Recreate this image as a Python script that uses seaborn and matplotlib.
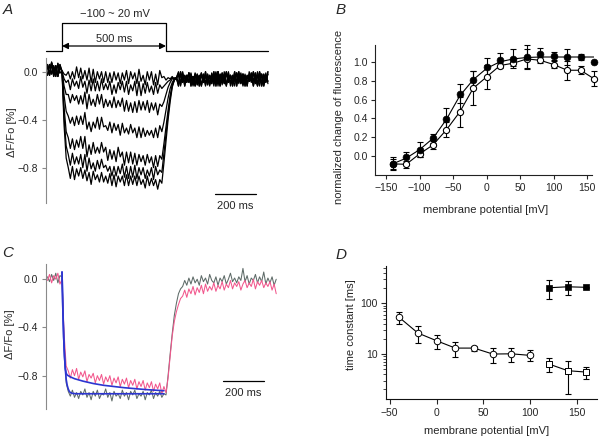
import numpy as np
import pandas as pd
import matplotlib
matplotlib.use("Agg")
import matplotlib.pyplot as plt
import matplotlib.transforms as mtransforms
import seaborn as sns

# ======================= DATA =======================
# ---- Panel A: ΔF/Fo traces, one sample every 10 ms starting at -70 ms ----
a_sample_ms = 10
a_start_ms = -70
a_stim_on_ms = 0
a_stim_off_ms = 500
a_stim_text = "−100 ~ 20 mV"
a_pulse_text = "500 ms"
a_scale_ms = 200

# before the pulse (-70 .. -10 ms)
a_pre_1 = [0.06, -0.03, 0.07, -0.02, 0.05, -0.04, 0.04]
a_pre_2 = [-0.03, 0.06, -0.02, 0.05, -0.04, 0.07, -0.01]
a_pre_3 = [0.04, -0.02, 0.08, -0.04, 0.03, -0.03, 0.06]

# during the pulse and recovery (0 .. 550 ms)
a_step_1 = [0.01, -0.02, -0.03,
            0.00, -0.06, 0.00, -0.06, 0.04, -0.05, 0.03, -0.06, 0.01,
            -0.07, 0.03, -0.09, 0.02, -0.09, 0.00, -0.06, 0.00, -0.09,
            0.00, -0.09, -0.01, -0.09, 0.00, -0.07, -0.01, -0.10, -0.01,
            -0.07, 0.01, -0.10, 0.00, -0.06, -0.01, -0.10, 0.02, -0.08,
            -0.03, -0.11, 0.00, -0.07, 0.00, -0.11, -0.02, -0.11, 0.01,
            -0.05, -0.04, -0.07, -0.05, -0.06, -0.04, -0.07, -0.05]
a_step_2 = [0.00, -0.06, -0.09,
            -0.07, -0.15, -0.06, -0.12, -0.08, -0.14, -0.04, -0.13, -0.08,
            -0.18, -0.07, -0.16, -0.06, -0.16, -0.08, -0.16, -0.06, -0.15,
            -0.10, -0.15, -0.08, -0.19, -0.11, -0.18, -0.09, -0.15, -0.08,
            -0.17, -0.08, -0.19, -0.11, -0.16, -0.08, -0.20, -0.08, -0.20,
            -0.10, -0.18, -0.09, -0.17, -0.12, -0.19, -0.09, -0.18, -0.11,
            -0.14, -0.12, -0.10, -0.08, -0.07, -0.05, -0.06, -0.05]
a_step_3 = [0.00, -0.12, -0.19,
            -0.19, -0.26, -0.19, -0.24, -0.20, -0.27, -0.20, -0.27, -0.17,
            -0.31, -0.19, -0.28, -0.23, -0.29, -0.19, -0.27, -0.19, -0.30,
            -0.23, -0.29, -0.24, -0.30, -0.21, -0.30, -0.24, -0.29, -0.22,
            -0.33, -0.24, -0.33, -0.26, -0.34, -0.25, -0.34, -0.24, -0.32,
            -0.25, -0.32, -0.24, -0.34, -0.26, -0.32, -0.26, -0.36, -0.27,
            -0.29, -0.25, -0.19, -0.13, -0.09, -0.06, -0.05, -0.06]
a_step_4 = [0.00, -0.20, -0.33,
            -0.37, -0.43, -0.38, -0.45, -0.37, -0.44, -0.37, -0.44, -0.34,
            -0.48, -0.42, -0.50, -0.42, -0.47, -0.38, -0.48, -0.38, -0.46,
            -0.45, -0.49, -0.42, -0.51, -0.43, -0.49, -0.44, -0.53, -0.43,
            -0.51, -0.47, -0.52, -0.44, -0.51, -0.47, -0.55, -0.46, -0.55,
            -0.47, -0.54, -0.49, -0.53, -0.49, -0.55, -0.47, -0.55, -0.45,
            -0.50, -0.42, -0.32, -0.22, -0.14, -0.09, -0.06, -0.05]
a_step_5 = [0.00, -0.30, -0.50,
            -0.55, -0.64, -0.56, -0.65, -0.57, -0.63, -0.54, -0.64, -0.54,
            -0.71, -0.61, -0.69, -0.59, -0.68, -0.63, -0.68, -0.59, -0.67,
            -0.63, -0.74, -0.65, -0.73, -0.66, -0.75, -0.63, -0.71, -0.67,
            -0.78, -0.67, -0.76, -0.67, -0.77, -0.68, -0.78, -0.69, -0.75,
            -0.70, -0.78, -0.69, -0.76, -0.71, -0.80, -0.70, -0.79, -0.70,
            -0.73, -0.60, -0.46, -0.32, -0.20, -0.11, -0.07, -0.05]
a_step_6 = [0.00, -0.38, -0.62,
            -0.69, -0.78, -0.68, -0.77, -0.71, -0.77, -0.69, -0.80, -0.69,
            -0.83, -0.72, -0.81, -0.76, -0.83, -0.74, -0.81, -0.73, -0.80,
            -0.78, -0.83, -0.79, -0.87, -0.79, -0.87, -0.79, -0.85, -0.77,
            -0.88, -0.79, -0.89, -0.79, -0.88, -0.78, -0.89, -0.80, -0.86,
            -0.80, -0.89, -0.82, -0.87, -0.80, -0.90, -0.79, -0.86, -0.82,
            -0.84, -0.68, -0.52, -0.36, -0.22, -0.12, -0.07, -0.05]
a_step_7 = [0.00, -0.45, -0.72,
            -0.80, -0.89, -0.79, -0.90, -0.81, -0.87, -0.80, -0.89, -0.82,
            -0.91, -0.84, -0.94, -0.83, -0.90, -0.86, -0.92, -0.84, -0.92,
            -0.87, -0.93, -0.85, -0.95, -0.86, -0.96, -0.87, -0.92, -0.87,
            -0.95, -0.86, -0.95, -0.87, -0.94, -0.87, -0.95, -0.87, -0.94,
            -0.90, -0.97, -0.87, -0.95, -0.89, -0.95, -0.90, -0.98, -0.90,
            -0.93, -0.76, -0.58, -0.40, -0.25, -0.13, -0.07, -0.05]

# after the recovery (560 .. 990 ms)
a_post_1 = [0.00, -0.12, -0.01, -0.12, -0.03, -0.09, -0.03, -0.12, -0.02, -0.11,
            -0.03, -0.11, -0.02, -0.09, -0.03, -0.12, -0.03, -0.09, -0.01, -0.12,
            -0.02, -0.08, -0.03, -0.12, 0.00, -0.10, -0.04, -0.12, -0.01, -0.08,
            -0.01, -0.12, -0.03, -0.12, 0.00, -0.09, -0.01, -0.10, -0.04, -0.08,
            -0.02, -0.12, -0.03, -0.08]
a_post_2 = [-0.10, 0.00, -0.09, -0.03, -0.08, -0.01, -0.12, -0.04, -0.11, -0.02,
            -0.08, -0.01, -0.09, 0.00, -0.11, -0.03, -0.08, 0.00, -0.12, 0.00,
            -0.12, -0.01, -0.09, 0.00, -0.08, -0.03, -0.10, 0.00, -0.09, -0.02,
            -0.09, -0.02, -0.09, -0.04, -0.08, -0.01, -0.08, -0.01, -0.11, 0.00,
            -0.12, -0.03, -0.08, -0.02]
a_post_3 = [-0.03, -0.09, 0.00, -0.09, -0.03, -0.08, -0.01, -0.11, -0.02, -0.11,
            -0.04, -0.12, -0.03, -0.12, -0.02, -0.10, -0.01, -0.08, 0.00, -0.10,
            -0.02, -0.08, -0.02, -0.12, -0.03, -0.09, -0.03, -0.08, -0.01, -0.09,
            -0.02, -0.09, -0.02, -0.12, -0.02, -0.08, 0.00, -0.08, -0.03, -0.12,
            -0.02, -0.12, -0.04, -0.08]
a_post_4 = [-0.12, -0.02, -0.08, -0.04, -0.09, -0.01, -0.08, -0.04, -0.12, -0.03,
            -0.12, -0.02, -0.09, -0.04, -0.08, -0.04, -0.10, -0.02, -0.10, 0.00,
            -0.11, -0.02, -0.10, -0.01, -0.09, -0.03, -0.12, -0.02, -0.12, 0.00,
            -0.10, -0.02, -0.12, -0.03, -0.08, -0.03, -0.12, -0.04, -0.12, -0.01,
            -0.10, -0.02, -0.09, 0.00]
a_post_5 = [-0.01, -0.11, -0.02, -0.12, -0.03, -0.09, -0.02, -0.10, -0.01, -0.08,
            -0.03, -0.12, -0.02, -0.11, -0.02, -0.11, -0.02, -0.12, -0.03, -0.09,
            -0.03, -0.11, 0.00, -0.11, -0.01, -0.12, -0.03, -0.08, -0.01, -0.10,
            -0.03, -0.11, -0.04, -0.09, -0.04, -0.08, 0.00, -0.08, 0.00, -0.08,
            -0.02, -0.10, -0.01, -0.10]

# ---- Panel B: normalized change of fluorescence vs membrane potential ----
b_mv = [-140, -120, -100, -80, -60, -40, -20, 0, 20, 40, 60, 80, 100, 120, 140, 160]
b_filled = [-0.08, -0.01, 0.07, 0.19, 0.39, 0.66, 0.81, 0.94, 1.02, 1.03, 1.05, 1.08,
            1.06, 1.05, 1.05, 1.00]
b_filled_err = [0.07, 0.06, 0.08, 0.05, 0.12, 0.10, 0.09, 0.10, 0.07, 0.10, 0.13, 0.07,
                0.04, 0.08, 0.03, 0.0]
b_filled_fit = [-0.08, -0.02, 0.07, 0.19, 0.39, 0.64, 0.81, 0.93, 1.00, 1.03, 1.045,
                1.05, 1.05, 1.05, 1.05, 1.05]
b_open = [-0.08, -0.085, 0.025, 0.12, 0.28, 0.47, 0.72, 0.84, 0.96, 0.985, 1.03, 1.015,
          0.97, 0.91, 0.91, 0.82]
b_open_err = [0.05, 0.04, 0.03, 0.04, 0.08, 0.16, 0.18, 0.13, 0.03, 0.03, 0.10, 0.03,
              0.04, 0.10, 0.04, 0.08]
b_xticks = [-150, -100, -50, 0, 50, 100, 150]
b_yticks = [0.0, 0.2, 0.4, 0.6, 0.8, 1.0]

# ---- Panel C: two normalized traces and their exponential fits ----
c_sample_ms = 10
c_start_ms = -70
c_grey = ([0.02, -0.02, 0.04, -0.01, 0.05, -0.03, 0.03] +
          [0.02, -0.55, -0.86, -0.93, -0.97, -0.92, -0.98, -0.94, -0.99, -0.93, -0.96,
           -0.91, -0.98, -0.94, -1.00, -0.93, -0.97, -0.92, -0.99, -0.95, -0.96, -0.91,
           -0.98, -0.94, -1.01, -0.93, -0.97, -0.95, -0.99, -0.92, -0.97, -0.94, -1.00,
           -0.93, -0.96, -0.92, -0.99, -0.95, -0.97, -0.93, -1.00, -0.94, -0.96, -0.92,
           -0.99, -0.94, -0.97, -0.93, -0.98, -0.95] +
          [-0.96, -0.80, -0.62, -0.45, -0.30, -0.20, -0.12, -0.08] +
          [-0.06, -0.01, -0.05, 0.01, -0.04, 0.02, -0.03, 0.00, -0.05, 0.03, -0.02, 0.01,
           -0.04, 0.04, -0.01, -0.03, 0.02, -0.05, 0.01, -0.02, 0.03, -0.04, 0.00, 0.05,
           -0.02, 0.01, -0.03, 0.02, -0.01, 0.09, -0.02, 0.03, -0.04, 0.01, -0.01, 0.04,
           -0.03, 0.02, -0.02, 0.06, -0.04, 0.01, -0.03, 0.02, -0.05, 0.00])
c_pink = ([-0.01, 0.04, -0.03, 0.03, 0.00, 0.05, -0.04] +
          [0.00, -0.45, -0.72, -0.76, -0.82, -0.75, -0.80, -0.74, -0.83, -0.77, -0.81,
           -0.76, -0.85, -0.79, -0.82, -0.78, -0.86, -0.80, -0.84, -0.79, -0.87, -0.81,
           -0.85, -0.80, -0.88, -0.82, -0.86, -0.81, -0.89, -0.83, -0.87, -0.82, -0.90,
           -0.84, -0.88, -0.83, -0.91, -0.85, -0.89, -0.84, -0.92, -0.86, -0.90, -0.85,
           -0.93, -0.87, -0.91, -0.86, -0.95, -0.89] +
          [-0.94, -0.82, -0.64, -0.47, -0.35, -0.27, -0.21, -0.16] +
          [-0.14, -0.09, -0.15, -0.08, -0.12, -0.06, -0.13, -0.07, -0.11, -0.05, -0.12,
           -0.04, -0.10, -0.06, -0.09, -0.03, -0.10, -0.05, -0.08, -0.02, -0.09, -0.04,
           -0.07, -0.01, -0.08, -0.03, -0.06, -0.02, -0.09, -0.04, -0.01, -0.07, -0.03,
           -0.06, 0.00, -0.08, -0.02, -0.05, -0.01, -0.07, -0.03, -0.06, -0.02, -0.09,
           -0.04, -0.12])
c_fit_fast_t = [0, 4, 8, 12, 16, 20, 25, 30, 35, 40, 50, 70, 100, 490]
c_fit_fast_v = [0.06, -0.25, -0.48, -0.64, -0.75, -0.83, -0.88, -0.91, -0.93, -0.94,
                -0.947, -0.95, -0.95, -0.95]
c_fit_slow_t = [0, 4, 8, 12, 16, 20, 25, 30, 40, 60, 100, 150, 200, 300, 400, 490]
c_fit_slow_v = [0.06, -0.25, -0.48, -0.64, -0.74, -0.78, -0.795, -0.80, -0.81, -0.825,
                -0.845, -0.865, -0.88, -0.90, -0.915, -0.925]
c_scale_ms = 200

# ---- Panel D: time constants vs membrane potential ----
d_mv_circ = [-40, -20, 0, 20, 40, 60, 80, 100]
d_tau_circ = [53, 26, 18.3, 13.1, 13.1, 10.0, 10.1, 9.4]
d_circ_lo = [39, 16.3, 12.3, 8.6, 11.6, 6.8, 7.1, 7.4]
d_circ_hi = [68, 35.6, 23.7, 17.3, 14.6, 13.3, 12.9, 12.2]
d_mv_sq = [120, 140, 160]
d_tau_fast = [6.35, 4.7, 4.4]
d_fast_lo = [4.4, 1.6, 3.2]
d_fast_hi = [8.2, 7.4, 5.6]
d_tau_slow = [203, 212, 207]
d_slow_lo = [120, 146, 200]
d_slow_hi = [288, 276, 214]
d_xticks = [-50, 0, 50, 100, 150]
d_yticks = [10, 100]
d_yticklabels = ["10", "100"]

# labels
lbl_dff = "ΔF/Fo [%]"
lbl_mv = "membrane potential [mV]"
lbl_norm = "normalized change of fluorescence"
lbl_tau = "time constant [ms]"
a_yticks = [0.0, -0.4, -0.8]
a_yticklabels = ["0.0", "−0.4", "−0.8"]

# ======================= STYLE =======================
sns.set_style("ticks")
plt.rcParams["font.family"] = ["Liberation Sans", "DejaVu Sans"]
plt.rcParams["axes.unicode_minus"] = True
plt.rcParams["xtick.labelsize"] = 7.5
plt.rcParams["ytick.labelsize"] = 7.5

W, H = 616, 437
fig = plt.figure(figsize=(W / 100, H / 100), dpi=100)


def px_axes(left, top, right, bottom):
    return fig.add_axes([left / W, 1 - bottom / H, (right - left) / W, (bottom - top) / H])


def frac(ax, x_px, y_px):
    bb = ax.get_position()
    return ((x_px / W - bb.x0) / bb.width, (1 - y_px / H - bb.y0) / bb.height)


def set_labels(ax, xlabel=None, xpos=None, ylabel=None, ypos=None):
    if ylabel is not None:
        ax.set_ylabel(ylabel, fontsize=8, va="center", ha="center")
        ax.yaxis.set_label_coords(*frac(ax, *ypos))
    if xlabel is not None:
        ax.set_xlabel(xlabel, fontsize=8, va="center", ha="center")
        ax.xaxis.set_label_coords(*frac(ax, *xpos))


def long_traces(traces, start, step):
    rows = []
    for name, vals in traces.items():
        for i, v in enumerate(vals):
            rows.append((start + step * i, v, name))
    return pd.DataFrame(rows, columns=["t", "dff", "trace"])


# ======================= PANEL A =======================
axA = px_axes(46, 5, 270, 203)
a_traces = {
    "1": a_pre_1 + a_step_1 + a_post_1,
    "2": a_pre_2 + a_step_2 + a_post_2,
    "3": a_pre_3 + a_step_3 + a_post_3,
    "4": a_pre_1 + a_step_4 + a_post_4,
    "5": a_pre_2 + a_step_5 + a_post_5,
    "6": a_pre_3 + a_step_6 + a_post_2,
    "7": a_pre_1 + a_step_7 + a_post_4,
}
dfA = long_traces(a_traces, a_start_ms, a_sample_ms)
sns.lineplot(data=dfA, x="t", y="dff", units="trace", estimator=None, color="black",
             lw=0.9, ax=axA, legend=False)
axA.set_xlim(-77, 1000)
axA.set_ylim(-1.095, 0.556)
sns.despine(ax=axA, bottom=True)
axA.spines["left"].set_bounds(-1.095, 0.114)
axA.spines["left"].set_color("#8a8a8a")
axA.set_xticks([])
axA.set_yticks(a_yticks)
axA.set_yticklabels(a_yticklabels)
axA.tick_params(axis="y", length=3, width=0.8, pad=2.5, color="#8a8a8a")
set_labels(axA, ylabel=lbl_dff, ypos=(11.5, 132))
axA.set_xlabel("")

blendA = mtransforms.blended_transform_factory(axA.transData, axA.transAxes)
yb = frac(axA, 0, 50.5)[1]
yt = frac(axA, 0, 23)[1]
xl = axA.get_xlim()[0]
axA.plot([xl, a_stim_on_ms, a_stim_on_ms, a_stim_off_ms, a_stim_off_ms, 990],
         [yb, yb, yt, yt, yb, yb], transform=blendA, color="black", lw=0.9,
         clip_on=False)
ya = frac(axA, 0, 46)[1]
axA.annotate("", xy=(a_stim_on_ms, ya), xytext=(a_stim_off_ms, ya),
             xycoords=blendA, textcoords=blendA,
             arrowprops=dict(arrowstyle="<|-|>", color="black", lw=0.9,
                             mutation_scale=9, shrinkA=0, shrinkB=0))
axA.text((a_stim_on_ms + a_stim_off_ms) / 2, frac(axA, 0, 38.5)[1], a_pulse_text,
         transform=blendA, ha="center", va="center", fontsize=8)
axA.text((a_stim_on_ms + a_stim_off_ms) / 2 + 5, frac(axA, 0, 14)[1], a_stim_text,
         transform=blendA, ha="center", va="center", fontsize=8)
ysb = frac(axA, 0, 194)[1]
axA.plot([735, 735 + a_scale_ms], [ysb, ysb], transform=blendA, color="black", lw=0.9,
         clip_on=False)
axA.text(735 + a_scale_ms / 2, frac(axA, 0, 206.5)[1], f"{a_scale_ms} ms",
         transform=blendA, ha="center", va="center", fontsize=8, clip_on=False)

# ======================= PANEL B =======================
axB = px_axes(375.3, 45, 594, 175)
axB.set_xlim(-166, 160)
axB.set_ylim(-0.198, 1.177)
axB.errorbar(b_mv, b_open, yerr=b_open_err, fmt="none", ecolor="black", elinewidth=0.8,
             capsize=2.2, capthick=0.8, clip_on=False, zorder=2)
axB.errorbar(b_mv, b_filled, yerr=b_filled_err, fmt="none", ecolor="black",
             elinewidth=0.8, capsize=2.2, capthick=0.8, clip_on=False, zorder=2)
sns.lineplot(x=b_mv, y=b_open, color="black", lw=0.8, ax=axB, zorder=2)
sns.lineplot(x=b_mv, y=b_filled_fit, color="black", lw=0.8, ax=axB, zorder=2)
sns.scatterplot(x=b_mv, y=b_open, marker="o", s=20, color="white", edgecolor="black",
                linewidth=0.8, ax=axB, zorder=3, clip_on=False)
sns.scatterplot(x=b_mv, y=b_filled, marker="o", s=24, color="black", edgecolor="black",
                linewidth=0.5, ax=axB, zorder=4, clip_on=False)
sns.despine(ax=axB)
for s in ("left", "bottom"):
    axB.spines[s].set_color("#222222")
    axB.spines[s].set_linewidth(0.8)
axB.spines["bottom"].set_bounds(-166, 157)
axB.set_xticks(b_xticks)
axB.set_yticks(b_yticks)
axB.set_yticklabels([f"{v:.1f}" for v in b_yticks])
axB.tick_params(length=3, width=0.8, pad=2.5)
set_labels(axB, xlabel=lbl_mv, xpos=(486, 210), ylabel=lbl_norm, ypos=(339, 117))

# ======================= PANEL C =======================
axC = px_axes(46, 264.3, 278.3, 409.3)
dfC = long_traces({"grey": c_grey, "pink": c_pink}, c_start_ms, c_sample_ms)
sns.lineplot(data=dfC[dfC.trace == "grey"], x="t", y="dff", color="#5e6b68", lw=0.75,
             ax=axC, estimator=None)
sns.lineplot(data=dfC[dfC.trace == "pink"], x="t", y="dff", color="#f2578d", lw=0.75,
             ax=axC, estimator=None)
sns.lineplot(x=c_fit_slow_t, y=c_fit_slow_v, color="#2c35d0", lw=1.2, ax=axC)
sns.lineplot(x=c_fit_fast_t, y=c_fit_fast_v, color="#2c35d0", lw=1.2, ax=axC)
axC.set_xlim(-77, 1040)
axC.set_ylim(-1.079, 0.124)
sns.despine(ax=axC, bottom=True)
axC.spines["left"].set_color("#8a8a8a")
axC.set_xticks([])
axC.set_yticks(a_yticks)
axC.set_yticklabels(a_yticklabels)
axC.tick_params(axis="y", length=3, width=0.8, pad=2.5, color="#8a8a8a")
set_labels(axC, ylabel=lbl_dff, ypos=(10.5, 334))
axC.set_xlabel("")
blendC = mtransforms.blended_transform_factory(axC.transData, axC.transAxes)
ysc = frac(axC, 0, 381.3)[1]
axC.plot([772, 772 + c_scale_ms], [ysc, ysc], transform=blendC, color="black", lw=0.9)
axC.text(772 + c_scale_ms / 2, frac(axC, 0, 393.3)[1], f"{c_scale_ms} ms",
         transform=blendC, ha="center", va="center", fontsize=8)

# ======================= PANEL D =======================
axD = px_axes(386, 266, 596.7, 399.3)
axD.set_yscale("log")
axD.set_xlim(-54, 171)
axD.set_ylim(1.28, 545)


def asym(v, lo, hi):
    v, lo, hi = map(np.asarray, (v, lo, hi))
    return np.vstack([v - lo, hi - v])


for xs, ys, lo, hi in ((d_mv_circ, d_tau_circ, d_circ_lo, d_circ_hi),
                       (d_mv_sq, d_tau_fast, d_fast_lo, d_fast_hi),
                       (d_mv_sq, d_tau_slow, d_slow_lo, d_slow_hi)):
    axD.errorbar(xs, ys, yerr=asym(ys, lo, hi), fmt="none", ecolor="black",
                 elinewidth=0.8, capsize=2.2, capthick=0.8, zorder=2)
    sns.lineplot(x=xs, y=ys, color="black", lw=0.8, ax=axD, zorder=2)
sns.scatterplot(x=d_mv_circ, y=d_tau_circ, marker="o", s=22, color="white",
                edgecolor="black", linewidth=0.7, ax=axD, zorder=3)
sns.scatterplot(x=d_mv_sq, y=d_tau_fast, marker="s", s=20, color="white",
                edgecolor="black", linewidth=0.7, ax=axD, zorder=3)
sns.scatterplot(x=d_mv_sq, y=d_tau_slow, marker="s", s=22, color="black",
                edgecolor="black", linewidth=0.5, ax=axD, zorder=3, clip_on=False)
sns.despine(ax=axD)
for s in ("left", "bottom"):
    axD.spines[s].set_color("#111111")
    axD.spines[s].set_linewidth(0.8)
axD.set_xticks(d_xticks)
axD.set_yticks(d_yticks)
axD.set_yticklabels(d_yticklabels)
axD.yaxis.set_minor_locator(matplotlib.ticker.LogLocator(base=10, subs=np.arange(2, 10)))
axD.yaxis.set_minor_formatter(matplotlib.ticker.NullFormatter())
axD.tick_params(which="major", length=3.5, width=0.8, pad=2.5)
axD.tick_params(which="minor", length=2, width=0.6)
set_labels(axD, xlabel=lbl_mv, xpos=(487, 430.7), ylabel=lbl_tau, ypos=(350.7, 325))

# ======================= panel letters =======================
for letter, (x, y) in {"A": (8, 10), "B": (341, 10.5), "C": (7.5, 253),
                       "D": (341, 255)}.items():
    fig.text(x / W, 1 - y / H, letter, fontsize=11, fontstyle="italic",
             ha="center", va="center")

fig.savefig("out.png", dpi=100)
